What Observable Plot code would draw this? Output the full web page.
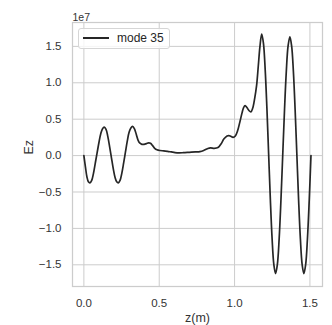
<!DOCTYPE html>
<html><head><meta charset="utf-8">
<script src="https://cdn.jsdelivr.net/npm/d3@7"></script>
<script src="https://cdn.jsdelivr.net/npm/@observablehq/plot@0.6"></script>
<style>
body{margin:0;background:#fff;}
#wrap{position:relative;width:332px;height:325px;font-family:"Liberation Sans",Arial,sans-serif;}
.legend{position:absolute;left:78px;top:28px;width:92px;height:21px;border:1px solid #d6d6d6;border-radius:3px;background:rgba(255,255,255,0.8);box-sizing:border-box;}
.legend .sw{position:absolute;left:4px;top:7.5px;width:26px;height:2px;background:#262626;}
.legend .lb{position:absolute;left:38px;top:1px;font-size:12px;line-height:16px;color:#262626;white-space:nowrap;}
</style></head>
<body><div id="wrap"></div>
<script>
const zVals = [
  0.000,0.010,0.020,0.030,0.040,0.052,0.064,0.076,0.088,0.100,0.112,0.124,0.135,0.147,0.159,0.171,0.183,0.195,0.207,0.218,0.228,0.240,0.252,0.264,0.276,0.288,0.300,0.312,0.323,0.335,0.348,0.360,0.372,0.385,0.400,0.415,0.430,0.442,0.455,0.470,0.485,0.505,0.530,0.555,0.580,0.605,0.630,0.660,0.700,0.740,0.770,0.795,0.820,0.840,0.865,0.890,0.910,0.930,0.950,0.962,0.975,0.990,1.005,1.020,1.035,1.050,1.060,1.070,1.082,1.095,1.108,1.120,1.133,1.146,1.157,1.1685,1.180,1.1915,1.203,1.2145,1.226,1.2375,1.249,1.2605,1.272,1.2839,1.2958,1.3076,1.3195,1.3314,1.3433,1.3551,1.367,1.3786,1.3903,1.4019,1.4135,1.4251,1.4368,1.4484,1.460,1.4718,1.4835,1.4953,1.507
];
const ezVals = [
  0.00,-0.15,-0.29,-0.36,-0.375,-0.34,-0.24,-0.10,0.04,0.18,0.30,0.37,0.39,0.36,0.26,0.12,-0.03,-0.18,-0.30,-0.36,-0.375,-0.34,-0.24,-0.10,0.05,0.20,0.32,0.38,0.40,0.37,0.29,0.21,0.17,0.155,0.155,0.165,0.175,0.17,0.14,0.10,0.08,0.07,0.065,0.058,0.05,0.042,0.038,0.04,0.045,0.05,0.055,0.07,0.095,0.107,0.10,0.11,0.16,0.23,0.27,0.275,0.265,0.25,0.27,0.34,0.46,0.59,0.66,0.685,0.66,0.62,0.60,0.65,0.78,0.96,1.22,1.50,1.67,1.545,1.188,0.655,0.025,-0.605,-1.138,-1.495,-1.62,-1.496,-1.144,-0.617,0.005,0.627,1.154,1.506,1.63,1.506,1.154,0.627,0.005,-0.617,-1.144,-1.496,-1.62,-1.496,-1.146,-0.62,0.00
];
const xTicks = [0, 0.5, 1.0, 1.5];
const yTicks = [-1.5, -1.0, -0.5, 0.0, 0.5, 1.0, 1.5];
const seriesName = "mode 35";
const xLabel = "z(m)";
const yLabel = "Ez";
const offsetLabel = "1e7";

const data = zVals.map((z, i) => ({z, ez: ezVals[i]}));
const fmt = d => d.toFixed(1).replace("-", "\u2212");

const chart = Plot.plot({
  width: 332, height: 325,
  marginLeft: 72, marginRight: 10, marginTop: 22, marginBottom: 39,
  style: {fontFamily: '"Liberation Sans", Arial, sans-serif', fontSize: "11.5px", color: "#333", background: "#fff", overflow: "visible"},
  x: {domain: [-0.0755, 1.5835]},
  y: {domain: [-1.798, 1.828]},
  marks: [
    Plot.gridX(xTicks, {stroke: "#cccccc", strokeOpacity: 1, strokeWidth: 1}),
    Plot.gridY(yTicks, {stroke: "#cccccc", strokeOpacity: 1, strokeWidth: 1}),
    Plot.frame({stroke: "#cccccc", strokeWidth: 1.25}),
    Plot.axisX(xTicks, {tickSize: 0, tickPadding: 12, tickFormat: fmt, label: null}),
    Plot.axisY(yTicks, {tickSize: 0, tickPadding: 11, tickFormat: fmt, label: null}),
    Plot.line(data, {x: "z", y: "ez", curve: "catmull-rom", stroke: "#262626", strokeWidth: 1.7}),
    Plot.text([offsetLabel], {text: d => d, frameAnchor: "top-left", textAnchor: "start", lineAnchor: "bottom", dy: -2, fontSize: 10.5}),
    Plot.text([xLabel], {text: d => d, frameAnchor: "bottom", lineAnchor: "middle", dy: 31, fontSize: 12.5}),
    Plot.text([yLabel], {text: d => d, frameAnchor: "left", rotate: -90, dx: -43.5, fontSize: 12.5})
  ]
});
const wrap = document.getElementById("wrap");
wrap.appendChild(chart);
const leg = document.createElement("div");
leg.className = "legend";
leg.innerHTML = '<span class="sw"></span><span class="lb"></span>';
leg.querySelector(".lb").textContent = seriesName;
wrap.appendChild(leg);
</script>
</body></html>
